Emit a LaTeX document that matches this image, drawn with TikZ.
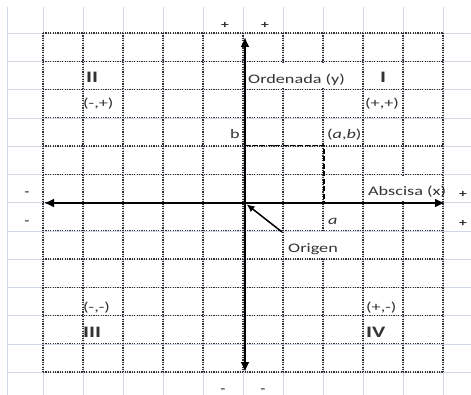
\documentclass[tikz,border=0pt]{standalone}
\usepackage{fontspec}
\setmainfont[FakeStretch=1.4]{Carlito}
\usetikzlibrary{arrows.meta}
\definecolor{cellline}{HTML}{D0D7E5}
\definecolor{ink}{HTML}{333333}

\begin{document}
\begin{tikzpicture}[x=1pt,y=-1pt,>={Latex[length=10pt,width=9pt]},
  dotgrid/.style={line width=1.2pt,black!80,dash pattern=on 1.2pt off 1.2pt},
  axis/.style={line width=2.2pt,black},
  proj/.style={line width=1.4pt,black,dash pattern=on 5pt off 2.5pt},
  pointer/.style={line width=1.5pt,black,-{Latex[length=8pt,width=7pt]}},
  cell/.style={anchor=base west,inner sep=0pt,text=ink,font=\fontsize{13}{15}\selectfont},
  quad/.style={cell,font=\fontsize{16}{18}\selectfont\bfseries},
  sign/.style={inner sep=0pt,text=ink,font=\fontsize{11}{13}\selectfont\bfseries}]
  \useasboundingbox (0,0) rectangle (471,395);
  \fill[white] (0,0) rectangle (471,395);
  % sheet
  \draw[cellline] (7,7) -- (7,395);
  \foreach \x in {43,83,...,443} \draw[cellline] (\x,7) -- (\x,395);
  \foreach \j in {0,...,12} \draw[cellline] (7,{33+28.25*\j}) -- (471,{33+28.25*\j});
  % dotted cells
  \foreach \x in {43,83,...,443} \draw[dotgrid] (\x,33) -- (\x,372);
  \foreach \j in {0,...,12} \draw[dotgrid] (43,{33+28.25*\j}) -- (443,{33+28.25*\j});
  % text running over the cell borders
  \fill[white] (247,62.6) rectangle (350,88.2);
  \fill[white] (366,175.6) rectangle (441,201.2);
  \fill[white] (286,232.1) rectangle (331,257.7);
  % axes
  \coordinate (O) at (245,203);
  \coordinate (xl) at (44,203);
  \coordinate (xr) at (445,203);
  \coordinate (yt) at (245,37);
  \coordinate (yb) at (245,372);
  \draw[axis,<->] (xl) -- (xr);
  \draw[axis,<->] (yb) -- (yt);
  % point (a,b)
  \coordinate (Pb) at (245,145.5);
  \coordinate (P) at (324,145.5);
  \coordinate (Pa) at (324,203);
  \draw[proj] (Pb) -- (P) -- (Pa);
  % labels
  \node[cell] (ordenada) at (248,83.5) {Ordenada (y)};
  \node[cell] (abscisa) at (368,196) {Abscisa (x)};
  \node[cell,anchor=base east] (b) at (240,139) {b};
  \node[cell] (ab) at (327,139) {(\textit{a},\textit{b})};
  \node[cell] (a) at (328,225) {\textit{a}};
  \node[cell] (origen) at (288,253) {Origen};
  \coordinate (tail) at (282,232);
  \draw[pointer,shorten >=2pt] (tail) -- (O);
  % quadrants
  \node[quad] (q2) at (86,83) {II};
  \node[cell] (s2) at (83,108) {(-,+)};
  \node[quad] (q1) at (380,83) {I};
  \node[cell] (s1) at (365,108) {(+,+)};
  \node[cell] (s3) at (83,311) {(-,-)};
  \node[quad] (q3) at (83,337.5) {III};
  \node[cell] (s4) at (366,311) {(+,-)};
  \node[quad] (q4) at (366,337.5) {IV};
  % signs
  \node[sign] (yp1) at (225,25) {+};
  \node[sign] (yp2) at (265,25) {+};
  \node[sign] (xp1) at (463,194) {+};
  \node[sign] (xp2) at (463,223) {+};
  \node[sign] (xm1) at (27,194) {-};
  \node[sign] (xm2) at (27,223) {-};
  \node[sign] (ym1) at (223,391) {-};
  \node[sign] (ym2) at (263,391) {-};
\end{tikzpicture}
\end{document}
